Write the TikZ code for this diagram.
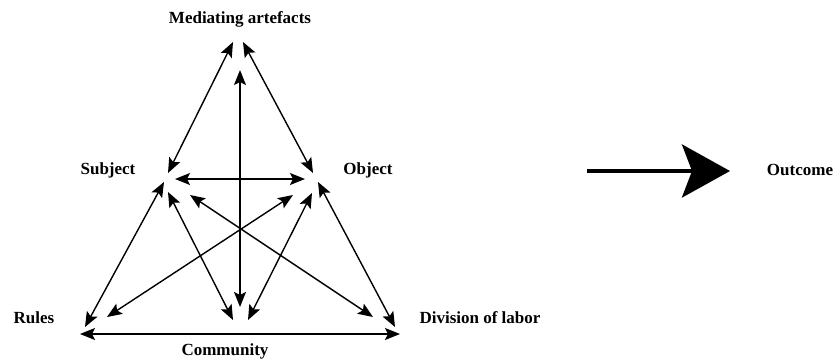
\documentclass[tikz,border=0pt]{standalone}
\usepackage{fontspec}
\setmainfont{Liberation Serif}
\usetikzlibrary{arrows.meta}
\begin{document}
\begin{tikzpicture}[>={Stealth[length=15pt,width=12pt,inset=3pt]},x=1pt,y=-1pt,line width=1.4pt,
		lbl/.style={font=\fontsize{17}{20}\selectfont\bfseries,inner sep=0pt}]
		\useasboundingbox (0,0) rectangle (833,360);
		% labels
		\node[lbl] (mediating) at (240,19) {Mediating artefacts};
		\node[lbl] (subject) at (108,170) {Subject};
		\node[lbl] (object) at (368,170) {Object};
		\node[lbl] (rules) at (34,318) {Rules};
		\node[lbl] (division) at (480,318) {Division of labor};
		\node[lbl] (community) at (225,351) {Community};
		\node[lbl] (outcome) at (800,170) {Outcome};
		% arrow ends
		\coordinate (ma-l) at (233,42); \coordinate (ma-r) at (243,42); \coordinate (ma-c) at (240,70);
		\coordinate (su-t) at (168,173); \coordinate (su-r) at (175,179); \coordinate (su-l) at (164,182);
		\coordinate (su-c) at (168,192); \coordinate (su-d) at (190,195);
		\coordinate (ob-t) at (313,173); \coordinate (ob-l) at (305,179); \coordinate (ob-r) at (318,182);
		\coordinate (ob-c) at (312,193); \coordinate (ob-u) at (293,195);
		\coordinate (ru-u) at (85,327); \coordinate (ru-h) at (80,334); \coordinate (ru-o) at (107,317);
		\coordinate (co-c) at (240,307); \coordinate (co-s) at (233,320); \coordinate (co-o) at (248,320);
		\coordinate (di-h) at (400,334); \coordinate (di-s) at (373,317); \coordinate (di-o) at (395,327);
		\foreach \a/\b in {ma-l/su-t,ma-r/ob-t,ma-c/co-c,su-r/ob-l,su-l/ru-u,su-c/co-s,su-d/di-s,
			ob-u/ru-o,ob-c/co-o,ob-r/di-o,ru-h/di-h}
		\draw[<->] (\a)--(\b);
		% outcome arrow
		\coordinate (out-s) at (587,171);
		\coordinate (out-e) at (730,171);
		\draw[line width=4pt,-{Stealth[length=48pt,width=53pt,inset=10pt]}] (out-s)--(out-e);
		\end{tikzpicture}
\end{document}
